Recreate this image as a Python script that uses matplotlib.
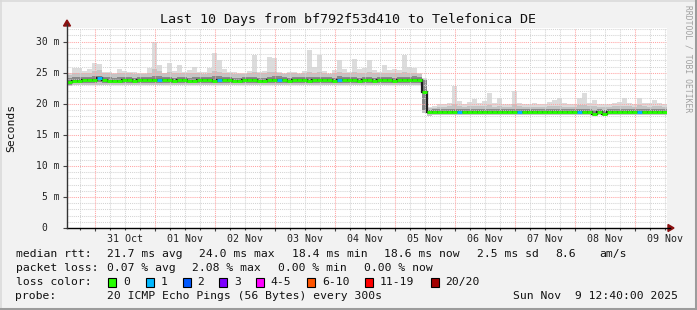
import matplotlib
matplotlib.use('Agg')
import matplotlib.pyplot as plt
import matplotlib.dates as mdates
from matplotlib.patches import Rectangle, Polygon
from matplotlib.lines import Line2D
from datetime import datetime, timedelta
import numpy as np

# ---------------- data (2-hour bins, 30 Oct 12:40 -> 09 Nov 12:40) ----------------
start = datetime(2025, 10, 30, 12, 40)
bin_hours = 2
median = [
    23.5, 23.7, 23.7, 23.8, 23.8, 23.9, 24.1, 23.8, 23.7, 23.7, 23.7, 23.8,
    23.8, 23.7, 23.8, 23.8, 23.8, 23.8, 23.9, 23.8, 23.8, 23.7, 23.8, 23.8,
    23.7, 23.7, 23.8, 23.8, 23.8, 23.7, 23.9, 23.8, 23.8, 23.7, 23.7, 23.8,
    23.8, 23.8, 23.7, 23.7, 23.8, 23.8, 23.9, 23.8, 23.7, 23.8, 23.8, 23.8,
    23.7, 23.8, 23.8, 23.8, 23.8, 23.7, 23.9, 23.8, 23.8, 23.8, 23.7, 23.8,
    23.8, 23.7, 23.8, 23.8, 23.8, 23.7, 23.8, 23.8, 23.8, 23.9, 23.8, 21.9,
    18.6, 18.6, 18.7, 18.6, 18.6, 18.6, 18.7, 18.6, 18.6, 18.6, 18.7, 18.6,
    18.6, 18.6, 18.6, 18.7, 18.6, 18.6, 18.7, 18.6, 18.6, 18.6, 18.6, 18.6,
    18.6, 18.7, 18.6, 18.6, 18.6, 18.6, 18.7, 18.6, 18.6, 18.4, 18.6, 18.4,
    18.6, 18.6, 18.7, 18.6, 18.6, 18.6, 18.7, 18.6, 18.6, 18.6, 18.6, 18.6,
]
loss = [0] * 120
for b in [6, 18, 30, 42, 54, 78, 90, 102, 114]:
    loss[b] = 1
smoke_max = [
    25.0, 25.8, 25.7, 25.3, 25.6, 26.5, 26.4, 25.2, 25.1, 25.0, 25.6, 25.3,
    25.2, 25.1, 24.9, 25.0, 25.8, 30.0, 26.2, 25.0, 26.6, 25.3, 26.3, 25.1,
    25.4, 26.0, 25.2, 25.1, 25.7, 28.1, 27.0, 25.6, 25.2, 25.1, 25.0, 25.0,
    25.3, 27.8, 25.2, 25.3, 27.6, 27.3, 25.2, 25.0, 25.1, 25.2, 25.0, 25.3,
    28.6, 25.9, 27.8, 25.3, 25.0, 25.5, 27.1, 25.6, 25.2, 27.2, 25.6, 25.8,
    27.1, 25.4, 25.2, 26.2, 25.5, 25.6, 25.4, 27.8, 25.9, 25.8, 25.0, 24.2,
    19.5, 19.6, 19.9, 20.0, 20.2, 22.9, 20.4, 20.0, 20.3, 20.7, 20.2, 20.4,
    21.7, 20.1, 20.9, 20.0, 19.9, 22.1, 20.2, 20.0, 19.9, 20.1, 20.0, 19.9,
    20.3, 20.6, 20.9, 20.1, 19.9, 20.0, 20.9, 21.8, 20.2, 20.6, 20.0, 19.9,
    20.0, 20.2, 20.3, 21.0, 20.2, 20.0, 21.0, 20.2, 20.1, 20.6, 20.2, 19.9,
]
smoke_upper = [
    24.7, 25.0, 25.0, 24.9, 25.0, 25.3, 25.4, 24.9, 24.9, 24.8, 25.0, 24.9,
    24.9, 24.8, 24.8, 24.8, 25.0, 25.6, 25.3, 24.9, 25.1, 24.9, 25.0, 24.9,
    24.9, 25.0, 24.9, 24.8, 25.0, 25.3, 25.2, 25.0, 24.9, 24.8, 24.8, 24.8,
    24.9, 25.2, 24.9, 24.9, 25.1, 25.2, 24.9, 24.8, 24.9, 24.9, 24.8, 24.9,
    25.2, 25.0, 25.1, 24.9, 24.8, 24.9, 25.1, 25.0, 24.9, 25.1, 25.0, 25.0,
    25.1, 24.9, 24.9, 25.0, 25.0, 25.0, 24.9, 25.2, 25.0, 25.0, 24.8, 24.0,
    19.3, 19.4, 19.5, 19.5, 19.6, 19.9, 19.7, 19.5, 19.6, 19.7, 19.6, 19.6,
    19.8, 19.5, 19.7, 19.5, 19.5, 19.9, 19.6, 19.5, 19.5, 19.5, 19.5, 19.5,
    19.6, 19.7, 19.7, 19.5, 19.5, 19.5, 19.8, 19.8, 19.6, 19.6, 19.5, 19.5,
    19.5, 19.6, 19.6, 19.7, 19.6, 19.5, 19.8, 19.6, 19.5, 19.6, 19.6, 19.5,
]
dense_upper = [
    24.2, 24.3, 24.3, 24.3, 24.3, 24.4, 24.5, 24.3, 24.3, 24.2, 24.3, 24.3,
    24.3, 24.2, 24.3, 24.3, 24.3, 24.5, 24.4, 24.3, 24.3, 24.2, 24.3, 24.3,
    24.2, 24.3, 24.3, 24.3, 24.3, 24.4, 24.4, 24.3, 24.3, 24.2, 24.2, 24.3,
    24.3, 24.3, 24.2, 24.2, 24.3, 24.4, 24.4, 24.3, 24.2, 24.3, 24.3, 24.3,
    24.3, 24.3, 24.3, 24.3, 24.3, 24.2, 24.4, 24.3, 24.3, 24.3, 24.2, 24.3,
    24.3, 24.2, 24.3, 24.3, 24.3, 24.2, 24.3, 24.3, 24.3, 24.4, 24.3, 23.8,
    19.0, 19.1, 19.1, 19.1, 19.1, 19.2, 19.2, 19.1, 19.1, 19.1, 19.1, 19.1,
    19.1, 19.1, 19.1, 19.1, 19.1, 19.2, 19.2, 19.1, 19.1, 19.1, 19.1, 19.1,
    19.1, 19.1, 19.1, 19.1, 19.1, 19.1, 19.2, 19.1, 19.1, 19.0, 19.1, 19.0,
    19.1, 19.1, 19.1, 19.1, 19.1, 19.1, 19.2, 19.1, 19.1, 19.1, 19.1, 19.1,
]
dense_lower = [
    23.1, 23.3, 23.3, 23.3, 23.3, 23.4, 23.5, 23.3, 23.3, 23.3, 23.3, 23.3,
    23.3, 23.3, 23.3, 23.3, 23.3, 23.3, 23.4, 23.3, 23.3, 23.3, 23.3, 23.3,
    23.3, 23.3, 23.3, 23.3, 23.3, 23.3, 23.4, 23.3, 23.3, 23.3, 23.3, 23.3,
    23.3, 23.3, 23.3, 23.3, 23.3, 23.3, 23.4, 23.3, 23.3, 23.3, 23.3, 23.3,
    23.3, 23.3, 23.3, 23.3, 23.3, 23.3, 23.4, 23.3, 23.3, 23.3, 23.3, 23.3,
    23.3, 23.3, 23.3, 23.3, 23.3, 23.3, 23.3, 23.3, 23.3, 23.4, 23.3, 19.0,
    18.3, 18.35, 18.4, 18.35, 18.35, 18.35, 18.4, 18.35, 18.35, 18.35, 18.4, 18.35,
    18.35, 18.35, 18.35, 18.4, 18.35, 18.35, 18.4, 18.35, 18.35, 18.35, 18.35, 18.35,
    18.35, 18.4, 18.35, 18.35, 18.35, 18.35, 18.4, 18.35, 18.35, 18.2, 18.35, 18.2,
    18.35, 18.35, 18.4, 18.35, 18.35, 18.35, 18.4, 18.35, 18.35, 18.35, 18.35, 18.35,
]
smoke_min = [
    22.9, 23.0, 23.0, 23.0, 23.0, 23.0, 23.1, 23.0, 23.0, 23.0, 23.0, 23.0,
    23.0, 23.0, 23.0, 23.0, 23.0, 23.0, 23.1, 23.0, 23.0, 23.0, 23.0, 23.0,
    23.0, 23.0, 23.0, 23.0, 23.0, 23.0, 23.1, 23.0, 23.0, 23.0, 23.0, 23.0,
    23.0, 23.0, 23.0, 23.0, 23.0, 23.0, 23.1, 23.0, 23.0, 23.0, 23.0, 23.0,
    23.0, 23.0, 23.0, 23.0, 23.0, 23.0, 23.1, 23.0, 23.0, 23.0, 23.0, 23.0,
    23.0, 23.0, 23.0, 23.0, 23.0, 23.0, 23.0, 23.0, 23.0, 23.1, 23.0, 18.5,
    18.1, 18.15, 18.2, 18.15, 18.15, 18.15, 18.2, 18.15, 18.15, 18.15, 18.2, 18.15,
    18.15, 18.15, 18.15, 18.2, 18.15, 18.15, 18.2, 18.15, 18.15, 18.15, 18.15, 18.15,
    18.15, 18.2, 18.15, 18.15, 18.15, 18.15, 18.2, 18.15, 18.15, 18.0, 18.15, 18.0,
    18.15, 18.15, 18.2, 18.15, 18.15, 18.15, 18.2, 18.15, 18.15, 18.15, 18.15, 18.15,
]
y_ticks = [0, 5, 10, 15, 20, 25, 30]
y_tick_labels = ['0', '5 m', '10 m', '15 m', '20 m', '25 m', '30 m']
day_labels = ['31 Oct', '01 Nov', '02 Nov', '03 Nov', '04 Nov', '05 Nov',
              '06 Nov', '07 Nov', '08 Nov', '09 Nov']
loss_names = ['0', '1', '2', '3', '4-5', '6-10', '11-19', '20/20']
loss_colors = ['#26ff00', '#00b8ff', '#0059ff', '#7e00ff', '#ff00ff',
               '#ff5500', '#ff0000', '#a10000']
title = 'Last 10 Days from bf792f53d410 to Telefonica DE'
row1 = [('median rtt:', 16), ('21.7 ms avg', 107.3), ('24.0 ms max', 199.8),
        ('18.4 ms min', 292.3), ('18.6 ms now', 384.8), ('2.5 ms sd', 477.2),
        ('8.6', 555.6), ('am/s', 600)]
row2 = [('packet loss:', 16), ('0.07 % avg', 107.3), ('2.08 % max', 193),
        ('0.00 % min', 278.5), ('0.00 % now', 364)]
row4 = [('probe:', 16), ('20 ICMP Echo Pings (56 Bytes) every 300s', 107.3),
        ('Sun Nov  9 12:40:00 2025', 513.3)]

# ---------------- layout ----------------
W, H = 697, 310
MONO = 'DejaVu Sans Mono'
plt.rcParams['font.family'] = MONO
fig = plt.figure(figsize=(W / 100, H / 100), dpi=100, facecolor='#f2f2f2')

def fx(x):
    return x / W

def fy(y):
    return 1 - y / H

AX_L, AX_R, AX_T, AX_B = 67, 667, 28, 228
ax = fig.add_axes([fx(AX_L), fy(AX_B), (AX_R - AX_L) / W, (AX_B - AX_T) / H])
ax.set_facecolor('white')
n = len(median)
edges = mdates.date2num([start + timedelta(hours=bin_hours * i) for i in range(n + 1)])
t0, t1 = edges[0], edges[-1]
ax.set_xlim(t0, t1)
ax.set_ylim(0, (AX_B - AX_T) / 6.21)

# smoke
ax.stairs(smoke_max, edges, baseline=smoke_min, fill=True, color='#dcdcdc', lw=0, zorder=1)
ax.stairs(smoke_upper, edges, baseline=smoke_min, fill=True, color='#c4c4c4', lw=0, zorder=2)
ax.stairs(dense_upper, edges, baseline=dense_lower, fill=True, color='#8a8a8a', lw=0, zorder=3)

# grid
ymax = ax.get_ylim()[1]
MINOR_C = '#d4d4d4'
MAJOR_C = '#ffa4a4'
for v in range(1, int(ymax) + 1):
    ax.axhline(v, color=MINOR_C if v % 5 else MAJOR_C, lw=0.75, ls=(0, (1, 1)), zorder=4)
first_mid = datetime(2025, 10, 31)
mids = [first_mid + timedelta(days=d) for d in range(10)]
six = []
tt = datetime(2025, 10, 30, 18)
while mdates.date2num(tt) < t1:
    if tt.hour != 0:
        six.append(tt)
    tt += timedelta(hours=6)
for m in six:
    ax.axvline(mdates.date2num(m), color=MINOR_C, lw=0.75, ls=(0, (1, 1)), zorder=4)
for m in mids:
    ax.axvline(mdates.date2num(m), color=MAJOR_C, lw=0.75, ls=(0, (1, 1)), zorder=4)

# median line coloured by loss
ax.stairs(median, edges, baseline=None, color='#202020', lw=1.6, zorder=5)
for i in range(n):
    ax.hlines(median[i], edges[i], edges[i + 1], color=loss_colors[loss[i]], lw=2.1, zorder=6)

# axes styling
for s in ['top', 'right', 'left', 'bottom']:
    ax.spines[s].set_visible(False)
ax.set_yticks(y_ticks)
ax.set_yticklabels([])
ax.tick_params(axis='y', length=3, width=0.8, color='#444444', direction='out')
ax.set_xticks(mdates.date2num(mids))
ax.set_xticks(mdates.date2num(six), minor=True)
ax.set_xticklabels([])
ax.tick_params(axis='x', which='major', length=2.5, width=0.8, color='#444444')
ax.tick_params(axis='x', which='minor', length=1.5, width=0.8, color='#444444')

ytr = ax.get_yaxis_transform()
for v, lab in zip(y_ticks, y_tick_labels):
    xr = 59.5 if lab != '0' else 47.5
    ax.text((xr - AX_L) / (AX_R - AX_L), v, lab, transform=ytr, ha='right', va='center',
            fontsize=7.0, color='#222222', clip_on=False)
xtr = ax.get_xaxis_transform()
for i, lab in enumerate(day_labels):
    noon = mdates.date2num(mids[i] + timedelta(hours=12))
    ax.text(noon, -(238.5 - AX_B) / (AX_B - AX_T), lab, transform=xtr, ha='center', va='center',
            fontsize=7.2, color='#222222', clip_on=False)

# axis lines with arrows (figure pixel coordinates)
def line_px(x0, y0, x1, y1, color, lw):
    fig.add_artist(Line2D([fx(x0), fx(x1)], [fy(y0), fy(y1)], color=color, lw=lw,
                          transform=fig.transFigure))

line_px(AX_L, AX_B, 670, AX_B, 'black', 1.0)
line_px(AX_L, AX_B, AX_L, 24, '#333333', 1.0)
arrow_c = '#8b1010'
fig.add_artist(Polygon([[fx(668), fy(224.5)], [fx(674), fy(228)], [fx(668), fy(231.5)]],
                       closed=True, color=arrow_c, transform=fig.transFigure))
fig.add_artist(Polygon([[fx(63.5), fy(26)], [fx(67), fy(20)], [fx(70.5), fy(26)]],
                       closed=True, color=arrow_c, transform=fig.transFigure))

# texts
fig.text(fx(347.5), fy(19), title, ha='center', va='center', fontsize=9.6, color='#111111')
fig.text(fx(11), fy(128), 'Seconds', rotation=90, ha='center', va='center', fontsize=8.2,
         color='#111111')
fig.text(fx(688), fy(58.5), 'RRDTOOL / TOBI OETIKER', rotation=270, ha='center', va='center',
         fontsize=5.8, color='#a0a0a0')

FS = 8.2
for row, yy in [(row1, 254.3), (row2, 268.3), (row4, 295.7)]:
    for txt, xx in row:
        fig.text(fx(xx - 0.5), fy(yy), txt, ha='left', va='center', fontsize=FS, color='#111111')
fig.text(fx(15.5), fy(282.3), 'loss color:', ha='left', va='center', fontsize=FS, color='#111111')
box_x = [108, 145.7, 182.7, 219.3, 256, 307.3, 365, 430.7]
lab_x = [123.3, 161, 197.7, 234.3, 271, 322.7, 380, 445.7]
for c, name, bx, lx in zip(loss_colors, loss_names, box_x, lab_x):
    fig.add_artist(Rectangle((fx(bx), fy(286.5)), 8 / W, 8.5 / H, facecolor=c,
                             edgecolor='black', lw=0.8, transform=fig.transFigure))
    fig.text(fx(lx - 0.5), fy(282.3), name, ha='left', va='center', fontsize=FS, color='#111111')

# 3D-ish border
line_px(0, 0.5, W, 0.5, '#dadada', 1.2)
line_px(0.5, 0, 0.5, H, '#dadada', 1.2)
line_px(0, H - 1.2, W, H - 1.2, '#9c9c9c', 2.2)
line_px(W - 1.2, 0, W - 1.2, H, '#9c9c9c', 2.2)

fig.savefig('out.png', dpi=100, facecolor=fig.get_facecolor())
